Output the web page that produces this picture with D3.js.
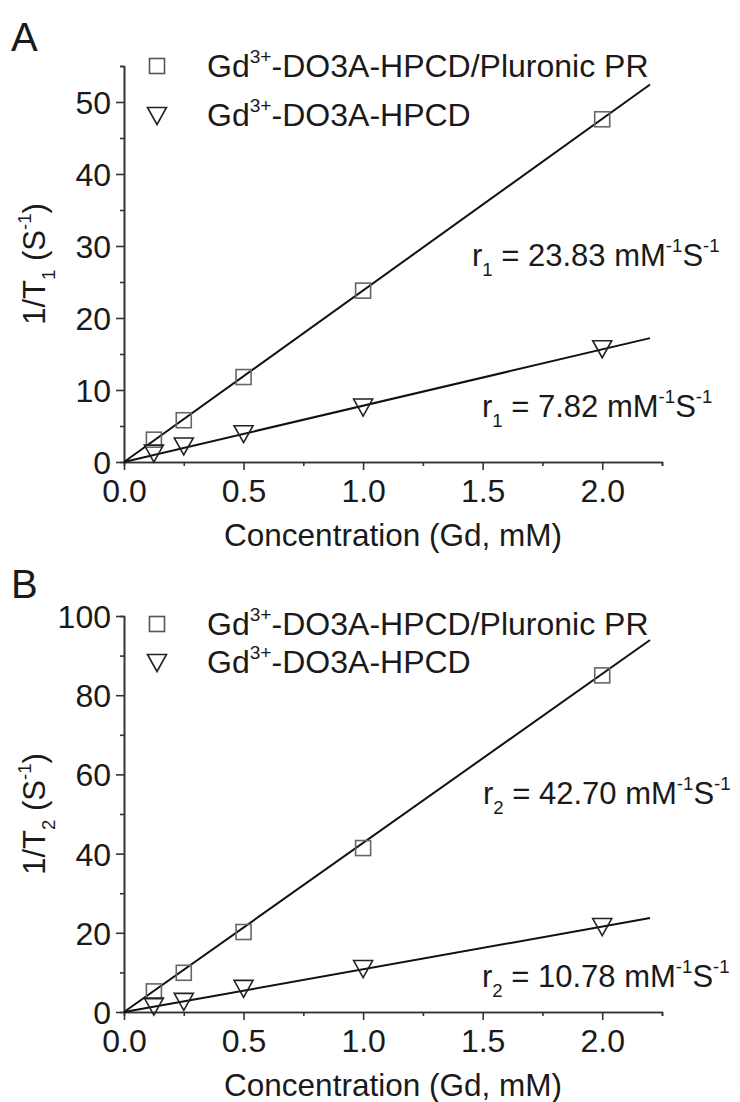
<!DOCTYPE html>
<html lang="en">
<head>
<meta charset="UTF-8">
<title>Relaxivity plots</title>
<script src="https://d3js.org/d3.v7.min.js"></script>
<style>
    body { margin: 0; background: #fff; }
    svg text { font-family: "Liberation Sans", Arial, sans-serif; fill: #1a1a1a; }
    .domain, .tick line { stroke: #333; stroke-width: 1.6px; }
</style>
</head>
<body>
<script>
// concentrations (Gd, mM)
const conc = [0.125, 0.25, 0.5, 1.0, 2.0];

// panel A: 1/T1 (S^-1)
const t1PR = [3.1, 5.8, 11.8, 23.8, 47.6];
const t1Free = [1.3, 2.3, 4.0, 7.7, 15.8];
// panel B: 1/T2 (S^-1)
const t2PR = [5.2, 9.9, 20.2, 41.4, 85.0];
const t2Free = [1.6, 2.8, 6.1, 11.1, 21.7];

// fitted relaxivities (slopes)
const r1 = [23.83, 7.82];
const r2 = [42.70, 10.78];
const fitRange = [0, 2.2];

const xTicks = [0.0, 0.5, 1.0, 1.5, 2.0];
const legendNames = ["-DO3A-HPCD/Pluronic PR", "-DO3A-HPCD"];

const W = 740, H = 1102;
const svg = d3.select("body").append("svg")
    .attr("width", W).attr("height", H);

const x = d3.scaleLinear().domain([0, 2.25]).range([124, 662]);

// write text with sub / superscripts, pieces: [string, "n"|"sub"|"sup"]
function richText(g, pieces, size) {
    const t = g.append("text").attr("font-size", size);
    let shift = 0;
    pieces.forEach(([s, kind]) => {
        let target = kind === "sup" ? -0.44 * size : kind === "sub" ? 0.32 * size : 0;
        t.append("tspan")
            .attr("dy", target - shift)
            .attr("font-size", kind === "n" ? size : size * 0.6)
            .text(s);
        shift = target;
    });
    return t;
}

function panel(cfg) {
    const y = d3.scaleLinear().domain([0, cfg.ymax]).range([cfg.y0, cfg.ytop]);
    const g = svg.append("g");

    // minor ticks
    g.append("g").attr("transform", `translate(0,${cfg.y0})`)
        .call(d3.axisBottom(x).tickValues(d3.range(0.25, 2.26, 0.5)).tickSize(4).tickFormat(""));
    g.append("g").attr("transform", `translate(${x(0)},0)`)
        .call(d3.axisLeft(y).tickValues(d3.range(cfg.ystep / 2, cfg.ymax + 0.01, cfg.ystep)).tickSize(4).tickFormat(""));

    // major axes
    const xa = g.append("g").attr("transform", `translate(0,${cfg.y0})`)
        .call(d3.axisBottom(x).tickValues(xTicks).tickSize(8).tickSizeOuter(0).tickFormat(d3.format(".1f")));
    xa.selectAll("text").attr("font-size", 32).attr("dy", 0).attr("y", 40);

    const ya = g.append("g").attr("transform", `translate(${x(0)},0)`)
        .call(d3.axisLeft(y).tickValues(d3.range(0, cfg.ymax + 0.01, cfg.ystep)).tickSize(8).tickSizeOuter(0).tickFormat(d3.format("d")));
    ya.selectAll("text").attr("font-size", 32).attr("x", -13).attr("dy", "0.36em");

    // axis titles
    g.append("text").attr("x", (x(0) + x(2.25)) / 2).attr("y", cfg.y0 + 84)
        .attr("text-anchor", "middle").attr("font-size", 31.5).text("Concentration (Gd, mM)");
    richText(g, [["1/T", "n"], [cfg.sub, "sub"], [" (S", "n"], ["-1", "sup"], [")", "n"]], 31)
        .attr("text-anchor", "middle")
        .attr("transform", `translate(45,${(cfg.y0 + cfg.ytop) / 2}) rotate(-90)`);

    // panel letter
    g.append("text").attr("x", 11).attr("y", cfg.letterY).attr("font-size", 40).text(cfg.letter);

    // fit lines
    const line = d3.line().x(d => x(d[0])).y(d => y(d[1]));
    cfg.slopes.forEach(s => {
        g.append("path")
            .attr("d", line(fitRange.map(c => [c, s * c])))
            .attr("fill", "none").attr("stroke", "#111").attr("stroke-width", 2);
    });

    // markers
    const sq = 15;
    g.selectAll(".sq").data(conc.map((c, i) => [c, cfg.pr[i]])).join("rect")
        .attr("x", d => x(d[0]) - sq / 2).attr("y", d => y(d[1]) - sq / 2)
        .attr("width", sq).attr("height", sq)
        .attr("fill", "none").attr("stroke", "#666").attr("stroke-width", 1.6);
    const tri = "M-9.5,-7.5L9.5,-7.5L0,9.5Z";
    g.selectAll(".tri").data(conc.map((c, i) => [c, cfg.free[i]])).join("path")
        .attr("d", tri)
        .attr("transform", d => `translate(${x(d[0])},${y(d[1])})`)
        .attr("fill", "none").attr("stroke", "#222").attr("stroke-width", 1.6);

    // legend
    const lg = g.append("g");
    lg.append("rect").attr("x", 157 - 7.5).attr("y", cfg.leg[0] - 7.5).attr("width", 15).attr("height", 15)
        .attr("fill", "none").attr("stroke", "#555").attr("stroke-width", 1.6);
    lg.append("path").attr("d", tri).attr("transform", `translate(157,${cfg.leg[1]})`)
        .attr("fill", "none").attr("stroke", "#222").attr("stroke-width", 1.6);
    legendNames.forEach((nm, i) => {
        richText(lg, [["Gd", "n"], ["3+", "sup"], [nm, "n"]], 32)
            .attr("x", 207).attr("y", cfg.leg[i] + 11);
    });

    // relaxivity notes
    cfg.notes.forEach(n => {
        richText(g, [["r", "n"], [cfg.sub, "sub"], [" = " + n.val.toFixed(2) + " mM", "n"], ["-1", "sup"], ["S", "n"], ["-1", "sup"]], 31)
            .attr("x", n.x).attr("y", n.y);
    });
}

panel({
    letter: "A", letterY: 51, sub: "1",
    ymax: 55, ystep: 10, y0: 462, ytop: 66,
    pr: t1PR, free: t1Free, slopes: r1,
    leg: [66, 115],
    notes: [{ val: r1[0], x: 472, y: 266 }, { val: r1[1], x: 482, y: 417 }]
});

panel({
    letter: "B", letterY: 598, sub: "2",
    ymax: 100, ystep: 20, y0: 1012, ytop: 616,
    pr: t2PR, free: t2Free, slopes: r2,
    leg: [624, 662],
    notes: [{ val: r2[0], x: 483, y: 804 }, { val: r2[1], x: 482, y: 987 }]
});
</script>
</body>
</html>
